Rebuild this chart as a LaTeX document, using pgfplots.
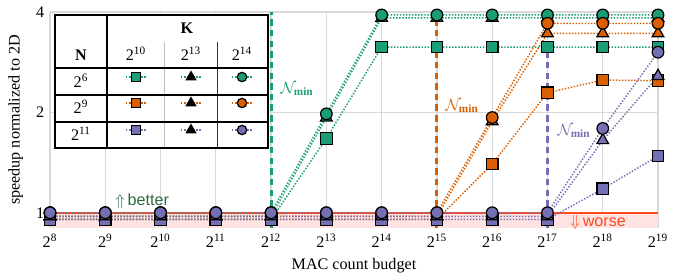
\documentclass[border=0pt]{standalone}
\usepackage{pgfplots}
\pgfplotsset{compat=1.18}
\usepackage{fontspec}
\setmainfont{Liberation Serif}
\newfontfamily\hv{Liberation Sans}
\definecolor{cg}{HTML}{1B9E77}
\definecolor{co}{HTML}{D95F02}
\definecolor{cp}{HTML}{7570B3}
\definecolor{cred}{HTML}{FF4A1C}
\definecolor{cpink}{HTML}{FFE3E3}
\definecolor{cbetter}{HTML}{2E6B3C}
\pgfplotsset{
  ser/.style={color=#1, densely dotted, line width=0.9pt,
    mark options={solid, fill=#1, draw=black, line width=0.75pt}},
  legtri/.style={color=#1, densely dotted, line width=0.9pt,
    mark options={solid, fill=black, draw=black, line width=0.75pt}},
}
\begin{document}
\begin{tikzpicture}
\path (0pt,0pt) rectangle (422.22pt,-167.4pt);
\begin{axis}[
  at={(31pt,-141.36pt)}, anchor=south west, scale only axis,
  width=376.96pt, height=133.92pt,
  xmode=log, log basis x=2, ymode=log, log basis y=2,
  xmin=256, xmax=524288, ymin=0.9, ymax=4,
  xtick={256,512,1024,2048,4096,8192,16384,32768,65536,131072,262144,524288},
  xticklabels={2\textsuperscript{8},2\textsuperscript{9},2\textsuperscript{10},2\textsuperscript{11},2\textsuperscript{12},2\textsuperscript{13},2\textsuperscript{14},2\textsuperscript{15},2\textsuperscript{16},2\textsuperscript{17},2\textsuperscript{18},2\textsuperscript{19}},
  ytick={1,2,4}, yticklabels={1,2,4},
  grid=major, major grid style={draw=black!15, line width=0.8pt},
  axis line style={draw=none}, tick style={draw=none},
  xlabel={MAC count budget}, ylabel={speedup normalized to 2D},
  ylabel style={at={(axis description cs:-0.035,0.5)}, anchor=south},
  clip=false,
]
\addplot[fill=cpink, draw=none] coordinates {(256,0.9) (524288,0.9) (524288,1) (256,1)};
\addplot[cred, line width=1.2pt] coordinates {(256,1) (524288,1)};
\addplot[cg, line width=1.8pt, dash pattern=on 4pt off 2.6pt] coordinates {(4096,0.9) (4096,4)};
\addplot[co, line width=1.8pt, dash pattern=on 4pt off 2.6pt] coordinates {(32768,0.9) (32768,4)};
\addplot[cp, line width=1.8pt, dash pattern=on 4pt off 2.6pt] coordinates {(131072,0.9) (131072,4)};
% N = 2^6 (green)
\addplot[ser=cg, mark=square*, mark size=3.6pt] coordinates {
 (256,0.955) (512,0.955) (1024,0.955) (2048,0.955) (4096,0.955) (8192,1.67)
 (16384,3.14) (32768,3.14) (65536,3.14) (131072,3.14) (262144,3.14) (524288,3.14)};
\addplot[ser=cg, mark=triangle*, mark size=4.2pt] coordinates {
 (256,0.975) (512,0.975) (1024,0.975) (2048,0.975) (4096,0.975) (8192,1.93)
 (16384,3.84) (32768,3.84) (65536,3.84) (131072,3.84) (262144,3.84) (524288,3.84)};
\addplot[ser=cg, mark=*, mark size=3.6pt] coordinates {
 (256,1) (512,1) (1024,1) (2048,1) (4096,1) (8192,1.98)
 (16384,3.92) (32768,3.92) (65536,3.92) (131072,3.92) (262144,3.92) (524288,3.92)};
% N = 2^9 (orange)
\addplot[ser=co, mark=square*, mark size=3.6pt] coordinates {
 (256,0.955) (512,0.955) (1024,0.955) (2048,0.955) (4096,0.955) (8192,0.955)
 (16384,0.955) (32768,0.955) (65536,1.40) (131072,2.29) (262144,2.50) (524288,2.49)};
\addplot[ser=co, mark=triangle*, mark size=4.2pt] coordinates {
 (256,0.975) (512,0.975) (1024,0.975) (2048,0.975) (4096,0.975) (8192,0.975)
 (16384,0.975) (32768,0.975) (65536,1.88) (131072,3.45) (262144,3.45) (524288,3.45)};
\addplot[ser=co, mark=*, mark size=3.6pt] coordinates {
 (256,1) (512,1) (1024,1) (2048,1) (4096,1) (8192,1)
 (16384,1) (32768,1) (65536,1.93) (131072,3.70) (262144,3.70) (524288,3.70)};
% N = 2^11 (purple)
\addplot[ser=cp, mark=square*, mark size=3.6pt] coordinates {
 (256,0.955) (512,0.955) (1024,0.955) (2048,0.955) (4096,0.955) (8192,0.955)
 (16384,0.955) (32768,0.955) (65536,0.955) (131072,0.955) (262144,1.18) (524288,1.48)};
\addplot[ser=cp, mark=triangle*, mark size=4.2pt] coordinates {
 (256,0.975) (512,0.975) (1024,0.975) (2048,0.975) (4096,0.975) (8192,0.975)
 (16384,0.975) (32768,0.975) (65536,0.975) (131072,0.975) (262144,1.65) (524288,2.57)};
\addplot[ser=cp, mark=*, mark size=3.6pt] coordinates {
 (256,1) (512,1) (1024,1) (2048,1) (4096,1) (8192,1)
 (16384,1) (32768,1) (65536,1) (131072,1) (262144,1.79) (524288,3.03)};
\node[cg, anchor=west] at (axis cs:4300,2.35) {$\mathcal{N}_{\mathbf{min}}$};
\node[co, anchor=west] at (axis cs:34080,2.09) {$\mathcal{N}_{\mathbf{min}}$};
\node[cp, anchor=west] at (axis cs:138500,1.76) {$\mathcal{N}_{\mathbf{min}}$};
\node[cbetter] at (axis cs:812,1.085) {$\Uparrow$\,{\hv better}};
\node[cred] at (axis cs:247200,0.933) {$\Downarrow$\,{\hv worse}};
\end{axis}
% legend table
\begin{axis}[
  at={(34.1pt,-91.76pt)}, anchor=south west, scale only axis,
  width=132.06pt, height=82.46pt,
  xmin=55, xmax=268, ymin=15, ymax=148, y dir=reverse,
  hide axis, clip=false,
]
\fill[white] (55,15) rectangle (268,148);
\draw[black!25, line width=0.6pt] (164,42) -- (164,148);
\draw[black!80, line width=0.6pt] (217,42) -- (217,148);
\draw[black, line width=0.7pt] (55,68) -- (268,68) (55,95) -- (268,95) (55,122) -- (268,122) (107,15) -- (107,148);
\draw[black, line width=0.7pt] (55,15) rectangle (268,148);
\node[font=\bfseries, anchor=base] at (187,33) {K};
\node[font=\bfseries, anchor=base] at (81,60) {N};
\node[anchor=base] at (136,60) {2\textsuperscript{10}};
\node[anchor=base] at (191,60) {2\textsuperscript{13}};
\node[anchor=base] at (242,60) {2\textsuperscript{14}};
\node[anchor=base] at (81,87) {2\textsuperscript{6}};
\node[anchor=base] at (81,113) {2\textsuperscript{9}};
\node[anchor=base] at (81,140) {2\textsuperscript{11}};
\addplot[ser=cg, mark=square*, mark size=2.9pt, mark indices={2}] coordinates {(126,77) (136,77) (146,77)};
\addplot[legtri=cg, mark=triangle*, mark size=3.3pt, mark indices={2}] coordinates {(181,77) (191,77) (201,77)};
\addplot[ser=cg, mark=*, mark size=2.9pt, mark indices={2}] coordinates {(232,77) (242,77) (252,77)};
\addplot[ser=co, mark=square*, mark size=2.9pt, mark indices={2}] coordinates {(126,103) (136,103) (146,103)};
\addplot[legtri=co, mark=triangle*, mark size=3.3pt, mark indices={2}] coordinates {(181,103) (191,103) (201,103)};
\addplot[ser=co, mark=*, mark size=2.9pt, mark indices={2}] coordinates {(232,103) (242,103) (252,103)};
\addplot[ser=cp, mark=square*, mark size=2.9pt, mark indices={2}] coordinates {(126,130) (136,130) (146,130)};
\addplot[legtri=cp, mark=triangle*, mark size=3.3pt, mark indices={2}] coordinates {(181,130) (191,130) (201,130)};
\addplot[ser=cp, mark=*, mark size=2.9pt, mark indices={2}] coordinates {(232,130) (242,130) (252,130)};
\end{axis}
\end{tikzpicture}
\end{document}
